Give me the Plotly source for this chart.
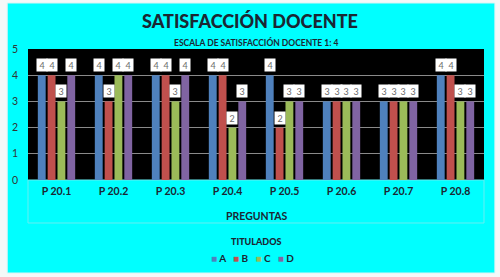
import plotly.graph_objects as go

categories = ["P 20.1", "P 20.2", "P 20.3", "P 20.4", "P 20.5", "P 20.6", "P 20.7", "P 20.8"]
series_names = ["A", "B", "C", "D"]
values_A = [4, 4, 4, 4, 4, 3, 3, 4]
values_B = [4, 3, 4, 4, 2, 3, 3, 4]
values_C = [3, 4, 3, 2, 3, 3, 3, 3]
values_D = [4, 4, 4, 3, 3, 3, 3, 3]
colors = ["#4F81BD", "#C0504D", "#9BBB59", "#8064A2"]
y_ticks = [0, 1, 2, 3, 4, 5]

series_values = [values_A, values_B, values_C, values_D]

W, H = 500, 277
ML, MR, MT, MB = 23, 16, 49, 97
pw = W - ML - MR
ph = H - MT - MB

bargap = 0.31
slot = (1 - bargap) / len(series_names)

fig = go.Figure()
for name, vals, col in zip(series_names, series_values, colors):
    fig.add_trace(go.Bar(x=categories, y=vals, name=name, marker=dict(color=col, line=dict(width=0)),
                         showlegend=False))

ann = []
for j, vals in enumerate(series_values):
    for i, v in enumerate(vals):
        ann.append(dict(x=i + (j - (len(series_names) - 1) / 2) * slot, y=v, xref="x", yref="y",
                        text=str(v), showarrow=False, yanchor="bottom", yshift=3,
                        bgcolor="white", borderpad=1, width=8, height=10,
                        font=dict(family="Lato", size=9, color="#6b6b6b")))

dark = "#1b2733"
ann.append(dict(x=0.5, y=(H - MB - 43) / ph, xref="paper", yref="paper", showarrow=False,
                text="ESCALA DE SATISFACCIÓN DOCENTE 1: 4", yanchor="middle",
                font=dict(family="Lato", size=8.5, color=dark, weight="bold")))
ann.append(dict(x=0.5, y=(H - MB - 216) / ph, xref="paper", yref="paper", showarrow=False,
                text="PREGUNTAS", yanchor="middle",
                font=dict(family="Lato", size=10.5, color=dark, weight="bold")))
ann.append(dict(x=0.5, y=(H - MB - 241) / ph, xref="paper", yref="paper", showarrow=False,
                text="TITULADOS", yanchor="middle",
                font=dict(family="Lato", size=9, color=dark, weight=900)))
leg = "   ".join(f"<span style='color:{c};font-size:10px'>■</span> {n}" for n, c in zip(series_names, colors))
ann.append(dict(x=(250 - ML) / pw, y=(H - MB - 258) / ph, xref="paper", yref="paper", showarrow=False,
                text=leg, yanchor="middle",
                font=dict(family="Lato", size=10, color=dark, weight="bold")))

def px_to_paper_x(px):
    return (px - ML) / pw

def px_to_paper_y(py):
    return (H - MB - py) / ph

shapes = [
    dict(type="rect", xref="paper", yref="paper", layer="below",
         x0=px_to_paper_x(2), x1=px_to_paper_x(495), y0=px_to_paper_y(273), y1=px_to_paper_y(3),
         fillcolor="#00FFFF", line=dict(color="#d8f4f4", width=1)),
    dict(type="rect", xref="paper", yref="paper", layer="below",
         x0=0, x1=1, y0=0, y1=1, fillcolor="black", line=dict(width=0)),
    dict(type="rect", xref="paper", yref="paper", layer="below",
         x0=0, x1=1, y0=px_to_paper_y(223), y1=0, fillcolor="rgba(0,0,0,0)",
         line=dict(color="#66eef2", width=1)),
]

fig.update_layout(
    width=W, height=H,
    margin=dict(l=ML, r=MR, t=MT, b=MB),
    paper_bgcolor="#f4f8f8",
    plot_bgcolor="rgba(0,0,0,0)",
    barmode="group", bargap=bargap, bargroupgap=0.2,
    title=dict(text="SATISFACCIÓN DOCENTE", x=0.5, xanchor="center",
               y=1 - 22 / H, yanchor="middle", yref="container",
               font=dict(family="Lato", size=18, color=dark, weight=900)),
    annotations=ann,
    shapes=shapes,
    showlegend=False,
    xaxis=dict(type="category", showgrid=False, showline=False, ticks="",
               tickfont=dict(family="Lato", size=10.5, color=dark, weight="bold"),
               ticklabelstandoff=3),
    yaxis=dict(range=[0, 5], tickvals=y_ticks, showgrid=True, gridcolor="#8a8a8a", gridwidth=1,
               zeroline=False, showline=False, ticks="",
               tickfont=dict(family="Lato", size=10.5, color="#333333"),
               ticklabelstandoff=9),
)

fig.write_html("out.html")
